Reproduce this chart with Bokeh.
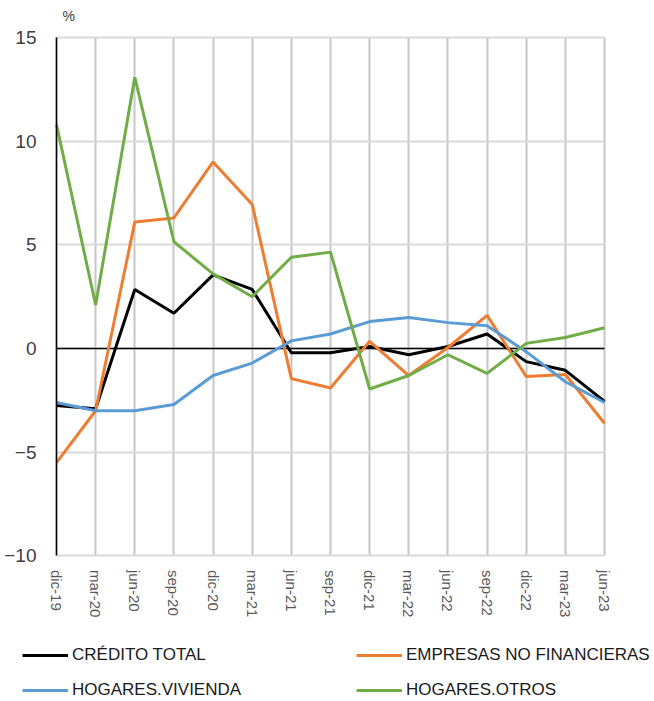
from bokeh.plotting import figure
from bokeh.models import Legend, LegendItem, FixedTicker, Title, Range1d, Grid
from bokeh.embed import file_html
from bokeh.resources import INLINE

cats = ["dic-19", "mar-20", "jun-20", "sep-20", "dic-20", "mar-21", "jun-21", "sep-21",
        "dic-21", "mar-22", "jun-22", "sep-22", "dic-22", "mar-23", "jun-23"]
credito_total = [-2.75, -2.9, 2.85, 1.7, 3.55, 2.85, -0.2, -0.2, 0.1, -0.3, 0.1, 0.7, -0.63, -1.05, -2.55]
empresas = [-5.5, -3.0, 6.1, 6.3, 9.0, 6.95, -1.45, -1.9, 0.35, -1.3, 0.05, 1.6, -1.35, -1.25, -3.6]
hog_vivienda = [-2.6, -3.0, -3.0, -2.7, -1.3, -0.7, 0.37, 0.7, 1.3, 1.5, 1.25, 1.1, -0.15, -1.6, -2.6]
hog_otros = [10.8, 2.1, 13.08, 5.15, 3.6, 2.5, 4.4, 4.65, -1.95, -1.3, -0.3, -1.2, 0.25, 0.53, 1.0]
y_ticks = [-10, -5, 0, 5, 10, 15]
series_names = ["CRÉDITO TOTAL", "EMPRESAS NO FINANCIERAS", "HOGARES.VIVIENDA", "HOGARES.OTROS"]
series_colors = ["black", "#ED7D31", "#5B9BD5", "#70AD47"]

xs = list(range(len(cats)))
all_series = [credito_total, empresas, hog_vivienda, hog_otros]
y_lo, y_hi = y_ticks[0], y_ticks[-1]

# layout geometry (pixels inside the figure)
W, H = 654, 700
TOP = 26                    # title band above the frame
X_FIRST, X_LAST = 56, 604   # pixel of first / last category
Y_HI_PX, Y_LO_PX = 35, 555  # pixel of top / bottom y tick

ppx = (X_LAST - X_FIRST) / (xs[-1] - xs[0])
ppy = (Y_LO_PX - Y_HI_PX) / (y_hi - y_lo)
x_range = Range1d(xs[0] - X_FIRST / ppx, xs[-1] + (W - X_LAST) / ppx)
y_range = Range1d(y_lo - (H - Y_LO_PX) / ppy, y_hi + (Y_HI_PX - TOP) / ppy)

p = figure(width=W, height=H, output_backend="svg", toolbar_location=None,
           x_range=x_range, y_range=y_range,
           min_border_left=0, min_border_right=0, min_border_top=TOP, min_border_bottom=0)
p.outline_line_color = None
p.background_fill_color = "white"

# x axis pinned at the bottom tick value
p.xaxis.fixed_location = y_lo
p.xaxis.bounds = (xs[0], xs[-1])
p.xaxis.ticker = FixedTicker(ticks=xs)
p.xaxis.major_label_overrides = {i: c for i, c in enumerate(cats)}
p.xaxis.major_label_orientation = "vertical"
p.xaxis.major_label_text_font = "Liberation Sans"
p.xaxis.major_label_text_font_size = "15px"
p.xaxis.major_label_text_color = "#595959"
p.xaxis.major_label_standoff = 8
p.xaxis.axis_line_color = None
p.xaxis.major_tick_line_color = None
p.xaxis.minor_tick_line_color = None

# y axis pinned at the first category
p.yaxis.fixed_location = xs[0]
p.yaxis.bounds = (y_lo, y_hi)
p.yaxis.ticker = FixedTicker(ticks=y_ticks)
p.yaxis.major_label_text_font = "Liberation Sans"
p.yaxis.major_label_text_font_size = "19px"
p.yaxis.major_label_text_color = "#404040"
p.yaxis.major_label_standoff = 14
p.yaxis.axis_line_color = "black"
p.yaxis.axis_line_width = 1.5
p.yaxis.major_tick_line_color = None
p.yaxis.minor_tick_line_color = None

has_cross = "cross_bounds" in Grid.properties()

p.xgrid.ticker = FixedTicker(ticks=xs)
p.xgrid.bounds = (xs[0], xs[-1])
p.xgrid.grid_line_color = "#c6c6c6"
p.xgrid.grid_line_width = 2
p.ygrid.ticker = FixedTicker(ticks=y_ticks)
p.ygrid.bounds = (y_lo, y_hi)
p.ygrid.grid_line_color = "#d9d9d9"
p.ygrid.grid_line_width = 2

if has_cross:
    p.xgrid.cross_bounds = (y_lo, y_hi)
    p.ygrid.cross_bounds = (xs[0], xs[-1])
    p.add_layout(Grid(dimension=1, ticker=FixedTicker(ticks=[0]), bounds=(y_lo, y_hi),
                      cross_bounds=(xs[0], xs[-1]),
                      grid_line_color="black", grid_line_width=1.5))
else:
    p.xgrid.visible = False
    p.ygrid.visible = False
    p.segment(x0=xs, y0=[y_lo] * len(xs), x1=xs, y1=[y_hi] * len(xs),
              line_color="#c6c6c6", line_width=2)
    p.segment(x0=[xs[0]] * len(y_ticks), y0=y_ticks, x1=[xs[-1]] * len(y_ticks), y1=y_ticks,
              line_color="#d9d9d9", line_width=2)
    p.segment(x0=[xs[0]], y0=[0], x1=[xs[-1]], y1=[0], line_color="black", line_width=1.5)

title = Title(text="%", align="left", offset=62, text_font="Liberation Sans",
              text_font_size="14px", text_font_style="normal", text_color="#404040")
p.add_layout(title, "above")

rs = [p.line(xs, ys, line_color=c, line_width=3) for ys, c in zip(all_series, series_colors)]

legend_style = dict(orientation="vertical", glyph_width=46, glyph_height=18, label_standoff=4,
                    label_height=18, label_text_font="Liberation Sans",
                    label_text_font_size="17px", label_text_color="#1a1a1a",
                    spacing=15, padding=0, margin=0,
                    border_line_color=None, background_fill_alpha=0)
legend1 = Legend(items=[LegendItem(label=series_names[0], renderers=[rs[0]]),
                        LegendItem(label=series_names[2], renderers=[rs[2]])],
                 location=(22, 0), **legend_style)
legend2 = Legend(items=[LegendItem(label=series_names[1], renderers=[rs[1]]),
                        LegendItem(label=series_names[3], renderers=[rs[3]])],
                 location=(356, 0), **legend_style)
p.add_layout(legend1)
p.add_layout(legend2)

open("out.html", "w").write(file_html(p, INLINE))
